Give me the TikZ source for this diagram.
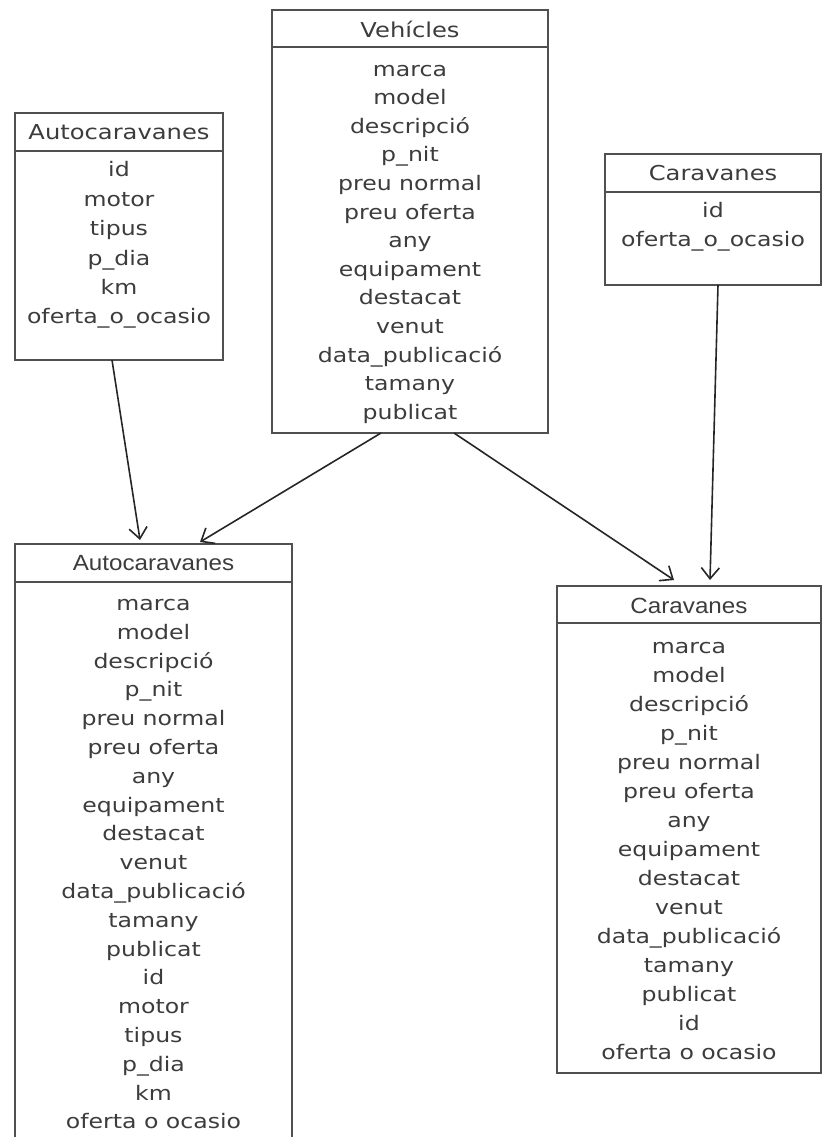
\documentclass[tikz,border=0pt]{standalone}
\usepackage{fontspec}
\usetikzlibrary{arrows.meta,calc}
\newfontfamily\attrfont[FakeStretch=1.18]{DejaVu Sans}
\newfontfamily\headfont[FakeStretch=1.1]{Liberation Sans}
\definecolor{boxc}{HTML}{505050}
\definecolor{txtc}{HTML}{3C3C3C}
\definecolor{arrc}{HTML}{262626}
\begin{document}
\begin{tikzpicture}[x=1pt,y=-1pt,
 tbl/.style={draw=boxc, line width=1.6pt, anchor=north west, inner sep=0pt, outer sep=0pt},
 hdr/.style={text=txtc, font=\attrfont\fontsize{20.5}{24}\selectfont, inner sep=0pt},
 hdrb/.style={text=txtc, font=\headfont\fontsize{22}{24}\selectfont, inner sep=0pt},
 attrs/.style={text=txtc, font=\attrfont\fontsize{20}{#1}\selectfont, align=center, inner sep=0pt},
 divider/.style={draw=boxc, line width=1.6pt},
 link/.style={draw=arrc, line width=1.6pt, -{Straight Barb[length=11pt,width=18pt,line width=1.6pt]}},
]
\useasboundingbox (0,0) rectangle (822,1137);
\clip (0,0) rectangle (822,1137);

% boxes
\node[tbl, minimum width=208pt, minimum height=247pt] (autotop) at (15,113) {};
\node[tbl, minimum width=276pt, minimum height=423pt] (veh) at (272,10) {};
\node[tbl, minimum width=216pt, minimum height=131pt] (cartop) at (605,154) {};
\node[tbl, minimum width=277pt, minimum height=650pt] (autobot) at (15,544) {};
\node[tbl, minimum width=264pt, minimum height=487pt] (carbot) at (557,586) {};

% dividers
\draw[divider] ($(autotop.north west)+(0,38)$) -- ($(autotop.north east)+(0,38)$);
\draw[divider] ($(veh.north west)+(0,37)$) -- ($(veh.north east)+(0,37)$);
\draw[divider] ($(cartop.north west)+(0,38)$) -- ($(cartop.north east)+(0,38)$);
\draw[divider] ($(autobot.north west)+(0,38)$) -- ($(autobot.north east)+(0,38)$);
\draw[divider] ($(carbot.north west)+(0,37)$) -- ($(carbot.north east)+(0,37)$);

% headers
\node[hdr] (hautotop) at (119,132) {Autocaravanes};
\node[hdr] (hveh) at (410,29) {Vehícles};
\node[hdr] (hcartop) at (713,173) {Caravanes};
\node[hdrb] (hautobot) at (153.5,563) {Autocaravanes};
\node[hdrb] (hcarbot) at (689,606) {Caravanes};

% attributes
\node[attrs=29.4] (rautotop) at (119,244.5) {\strut id\\motor\\tipus\\p\_dia\\km\\oferta\_o\_ocasio\strut};
\node[attrs=28.6] (rveh) at (410,242) {\strut marca\\model\\descripció\\p\_nit\\preu normal\\preu oferta\\any\\equipament\\destacat\\venut\\data\_publicació\\tamany\\publicat\strut};
\node[attrs=29] (rcartop) at (713,226.5) {\strut id\\oferta\_o\_ocasio\strut};
\node[attrs=28.8] (rautobot) at (153.5,864) {\strut marca\\model\\descripció\\p\_nit\\preu normal\\preu oferta\\any\\equipament\\destacat\\venut\\data\_publicació\\tamany\\publicat\\id\\motor\\tipus\\p\_dia\\km\\oferta o ocasio\strut};
\node[attrs=29] (rcarbot) at (689,851) {\strut marca\\model\\descripció\\p\_nit\\preu normal\\preu oferta\\any\\equipament\\destacat\\venut\\data\_publicació\\tamany\\publicat\\id\\oferta o ocasio\strut};

% connectors
\draw[link] ($(autotop.south west)+(97,0)$) -- ($(autobot.north west)+(125,-4)$);
\draw[link] ($(veh.south west)+(109,0)$) -- ($(autobot.north west)+(185,-2)$);
\draw[link] ($(veh.south west)+(182,0)$) -- ($(carbot.north west)+(117,-6)$);
\draw[link] ($(cartop.south west)+(113,0)$) -- ($(carbot.north west)+(153,-6)$);
\end{tikzpicture}
\end{document}
